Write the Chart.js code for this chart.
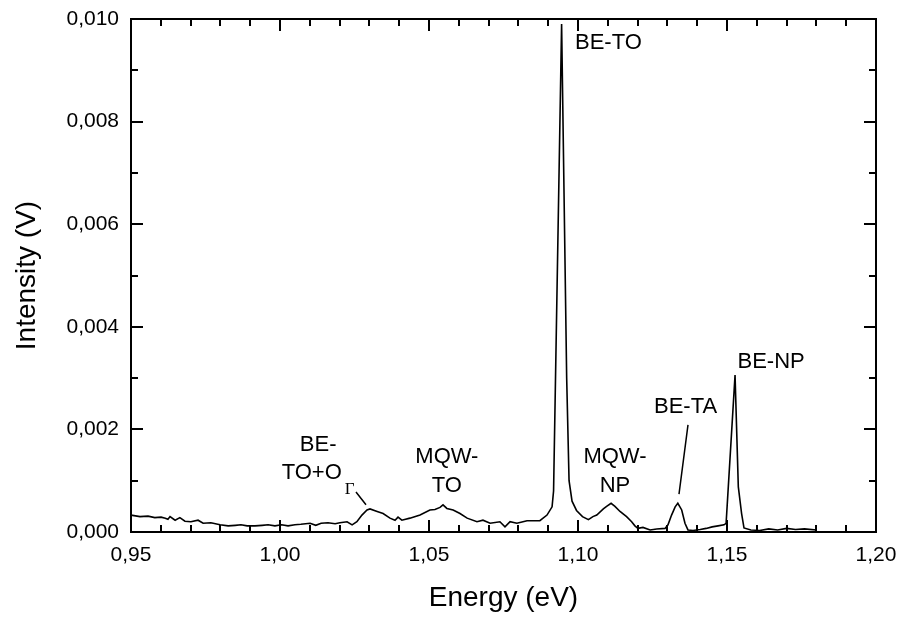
<!DOCTYPE html>
<html>
<head>
<meta charset="utf-8">
<title>PL spectrum</title>
<script src="https://cdn.jsdelivr.net/npm/chart.js@4.4.1/dist/chart.umd.min.js"></script>
<style>
  html, body { margin: 0; padding: 0; background: #fff; }
  canvas { display: block; }
</style>
</head>
<body>
<canvas id="chart" width="900" height="619"></canvas>
<script>
// Photoluminescence spectrum: photon energy (eV) vs detector signal (V)
const energy = [
  0.9500, 0.9530, 0.9557, 0.9580, 0.9601, 0.9615, 0.9624, 0.9631, 0.9648, 0.9664,
  0.9681, 0.9701, 0.9725, 0.9742, 0.9768, 0.9799, 0.9826, 0.9850, 0.9869, 0.9890,
  0.9916, 0.9940, 0.9960, 0.9983, 1.0005, 1.0027, 1.0050, 1.0070, 1.0101, 1.0120,
  1.0138, 1.0161, 1.0185, 1.0201, 1.0225, 1.0242, 1.0258, 1.0275, 1.0292, 1.0302,
  1.0326, 1.0346, 1.0369, 1.0386, 1.0396, 1.0409, 1.0436, 1.0470, 1.0503, 1.0520,
  1.0537, 1.0547, 1.0560, 1.0581, 1.0604, 1.0628, 1.0661, 1.0681, 1.0705, 1.0738,
  1.0755, 1.0772, 1.0795, 1.0829, 1.0872, 1.0896, 1.0913, 1.0918, 1.0945, 1.0962,
  1.0970, 1.0980, 1.0995, 1.1015, 1.1035, 1.1050, 1.1063, 1.1085, 1.1096, 1.1111,
  1.1124, 1.1141, 1.1163, 1.1180, 1.1191, 1.1201, 1.1218, 1.1242, 1.1264, 1.1292,
  1.1302, 1.1314, 1.1326, 1.1335, 1.1348, 1.1359, 1.1369, 1.1386, 1.1410, 1.1430,
  1.1450, 1.1470, 1.1490, 1.1497, 1.1527, 1.1538, 1.1549, 1.1557, 1.1580, 1.1610,
  1.1640, 1.1670, 1.1700, 1.1730, 1.1760, 1.1800
];
const intensity = [
  0.00033, 0.00030, 0.00031, 0.00028, 0.00029, 0.00027, 0.00025, 0.00030, 0.00023, 0.00028,
  0.00021, 0.00020, 0.00023, 0.00017, 0.00018, 0.00014, 0.00012, 0.00013, 0.00014, 0.00012,
  0.00012, 0.00013, 0.00014, 0.00012, 0.00014, 0.00012, 0.00014, 0.00015, 0.00017, 0.00013,
  0.00017, 0.00018, 0.00016, 0.00018, 0.00020, 0.00014, 0.00020, 0.00033, 0.00043, 0.00045,
  0.00040, 0.00036, 0.00027, 0.00023, 0.00029, 0.00023, 0.00027, 0.00033, 0.00043, 0.00044,
  0.00048, 0.00053, 0.00046, 0.00043, 0.00036, 0.00027, 0.00020, 0.00023, 0.00017, 0.00020,
  0.00010, 0.00020, 0.00017, 0.00022, 0.00022, 0.00033, 0.00049, 0.00080, 0.00990, 0.00300,
  0.00100, 0.00060, 0.00042, 0.00030, 0.00024, 0.00030, 0.00033, 0.00045, 0.00050, 0.00056,
  0.00050, 0.00040, 0.00030, 0.00020, 0.00012, 0.00007, 0.00009, 0.00004, 0.00006, 0.00007,
  0.00014, 0.00033, 0.00049, 0.00056, 0.00043, 0.00017, 0.00004, 0.00003, 0.00005, 0.00007,
  0.00010, 0.00012, 0.00014, 0.00017, 0.00306, 0.00088, 0.00036, 0.00008, 0.00004, 0.00003,
  0.00006, 0.00004, 0.00007, 0.00005, 0.00006, 0.00004
];

// Axis ranges and tick positions
const xRange = [0.95, 1.20];
const xTickValues = [0.95, 1.00, 1.05, 1.10, 1.15, 1.20];
const xMinorStep = 0.01;
const yRange = [0.000, 0.010];
const yTickValues = [0.000, 0.002, 0.004, 0.006, 0.008, 0.010];
const yMinorStep = 0.001;

// Peak labels (centre of text, in data units)
const peakLabels = [
  { text: 'BE-TO', x: 1.1102, y: 0.00953 },
  { text: 'BE-',   x: 1.0128, y: 0.00170 },
  { text: 'MQW-',  x: 1.0560, y: 0.00146 },
  { text: 'TO',    x: 1.0560, y: 0.00090 },
  { text: 'MQW-',  x: 1.1124, y: 0.00146 },
  { text: 'NP',    x: 1.1124, y: 0.00090 },
  { text: 'BE-TA', x: 1.1361, y: 0.00244 },
  { text: 'BE-NP', x: 1.1648, y: 0.00331 }
];
// Label with a subscript: main text + subscript, centred as one string
const subLabel = { text: 'TO+O', sub: 'Γ', x: 1.0128, y: 0.00115 };
// Pointer lines from labels to peaks
const leaders = [
  { x1: 1.02550, y1: 0.00078, x2: 1.02886, y2: 0.00053 },
  { x1: 1.13691, y1: 0.00209, x2: 1.13389, y2: 0.00074 }
];

const decimalComma = (v, digits) => v.toFixed(digits).replace('.', ',');
const FONT = 'Liberation Sans, Arial, Helvetica, sans-serif';

// Draws the closed frame with inward-pointing major/minor ticks, and the peak labels
const frameAndLabels = {
  id: 'frameAndLabels',
  afterDatasetsDraw(chart) {
    const { ctx, chartArea: a, scales: { x, y } } = chart;
    ctx.save();
    ctx.strokeStyle = '#000';
    ctx.lineWidth = 2;
    ctx.lineCap = 'butt';
    ctx.strokeRect(a.left, a.top, a.right - a.left, a.bottom - a.top);

    const isMajor = (v, list) => list.some(t => Math.abs(t - v) < 1e-9);
    ctx.beginPath();
    const nx = Math.round((xRange[1] - xRange[0]) / xMinorStep);
    for (let i = 0; i <= nx; i++) {
      const v = +(xRange[0] + i * xMinorStep).toFixed(4);
      const px = Math.round(x.getPixelForValue(v));
      const len = isMajor(v, xTickValues) ? 12 : 7;
      ctx.moveTo(px, a.bottom); ctx.lineTo(px, a.bottom - len);
      ctx.moveTo(px, a.top);    ctx.lineTo(px, a.top + len);
    }
    const ny = Math.round((yRange[1] - yRange[0]) / yMinorStep);
    for (let i = 0; i <= ny; i++) {
      const v = +(yRange[0] + i * yMinorStep).toFixed(5);
      const py = Math.round(y.getPixelForValue(v));
      const len = isMajor(v, yTickValues) ? 12 : 7;
      ctx.moveTo(a.left, py);  ctx.lineTo(a.left + len, py);
      ctx.moveTo(a.right, py); ctx.lineTo(a.right - len, py);
    }
    ctx.stroke();

    // leader lines
    ctx.lineWidth = 1.5;
    ctx.beginPath();
    leaders.forEach(l => {
      ctx.moveTo(x.getPixelForValue(l.x1), y.getPixelForValue(l.y1));
      ctx.lineTo(x.getPixelForValue(l.x2), y.getPixelForValue(l.y2));
    });
    ctx.stroke();

    // labels
    ctx.fillStyle = '#000';
    ctx.textBaseline = 'middle';
    ctx.textAlign = 'center';
    ctx.font = '22px ' + FONT;
    peakLabels.forEach(l => {
      ctx.fillText(l.text, x.getPixelForValue(l.x), y.getPixelForValue(l.y));
    });

    // label with subscript Gamma
    const mainW = ctx.measureText(subLabel.text).width;
    ctx.font = '17px Liberation Serif, Times New Roman, serif';
    const subW = ctx.measureText(subLabel.sub).width;
    const gap = 3;
    const cx = x.getPixelForValue(subLabel.x);
    const cy = y.getPixelForValue(subLabel.y);
    const left = cx - (mainW + gap + subW) / 2;
    ctx.textAlign = 'left';
    ctx.fillText(subLabel.sub, left + mainW + gap, cy + 17);
    ctx.font = '22px ' + FONT;
    ctx.fillText(subLabel.text, left, cy);
    ctx.restore();
  }
};

const points = energy.map((e, i) => ({ x: e, y: intensity[i] }));

// Fixed scale boxes so the plot frame sits at the intended place
const zeroPadding = s => { s.paddingTop = 0; s.paddingBottom = 0; s.paddingLeft = 0; s.paddingRight = 0; };

new Chart(document.getElementById('chart'), {
  type: 'scatter',
  data: {
    datasets: [{
      data: points,
      showLine: true,
      borderColor: '#000',
      borderWidth: 1.6,
      pointRadius: 0,
      tension: 0,
      fill: false
    }]
  },
  options: {
    responsive: false,
    animation: false,
    devicePixelRatio: 1,
    layout: { padding: { top: 19, right: 24, left: 0, bottom: 0 } },
    plugins: { legend: { display: false }, tooltip: { enabled: false } },
    scales: {
      x: {
        type: 'linear',
        min: xRange[0],
        max: xRange[1],
        afterBuildTicks: s => { s.ticks = xTickValues.map(v => ({ value: v })); },
        afterFit: s => { s.height = 87; zeroPadding(s); },
        grid: { display: false, drawTicks: false },
        border: { display: false },
        ticks: {
          autoSkip: false, maxRotation: 0, padding: 11, color: '#000',
          font: { family: FONT, size: 21 },
          callback: v => decimalComma(v, 2)
        },
        title: {
          display: true, text: 'Energy (eV)', color: '#000',
          font: { family: FONT, size: 28 }, padding: { top: 0, bottom: 4 }
        }
      },
      y: {
        type: 'linear',
        min: yRange[0],
        max: yRange[1],
        afterBuildTicks: s => { s.ticks = yTickValues.map(v => ({ value: v })); },
        afterFit: s => { s.width = 131; zeroPadding(s); },
        grid: { display: false, drawTicks: false },
        border: { display: false },
        ticks: {
          autoSkip: false, padding: 12, color: '#000',
          font: { family: FONT, size: 21 },
          callback: v => decimalComma(v, 3)
        },
        title: {
          display: true, text: 'Intensity (V)', color: '#000',
          font: { family: FONT, size: 28 }, padding: { top: 10, bottom: 0 }
        }
      }
    }
  },
  plugins: [frameAndLabels]
});
</script>
</body>
</html>
